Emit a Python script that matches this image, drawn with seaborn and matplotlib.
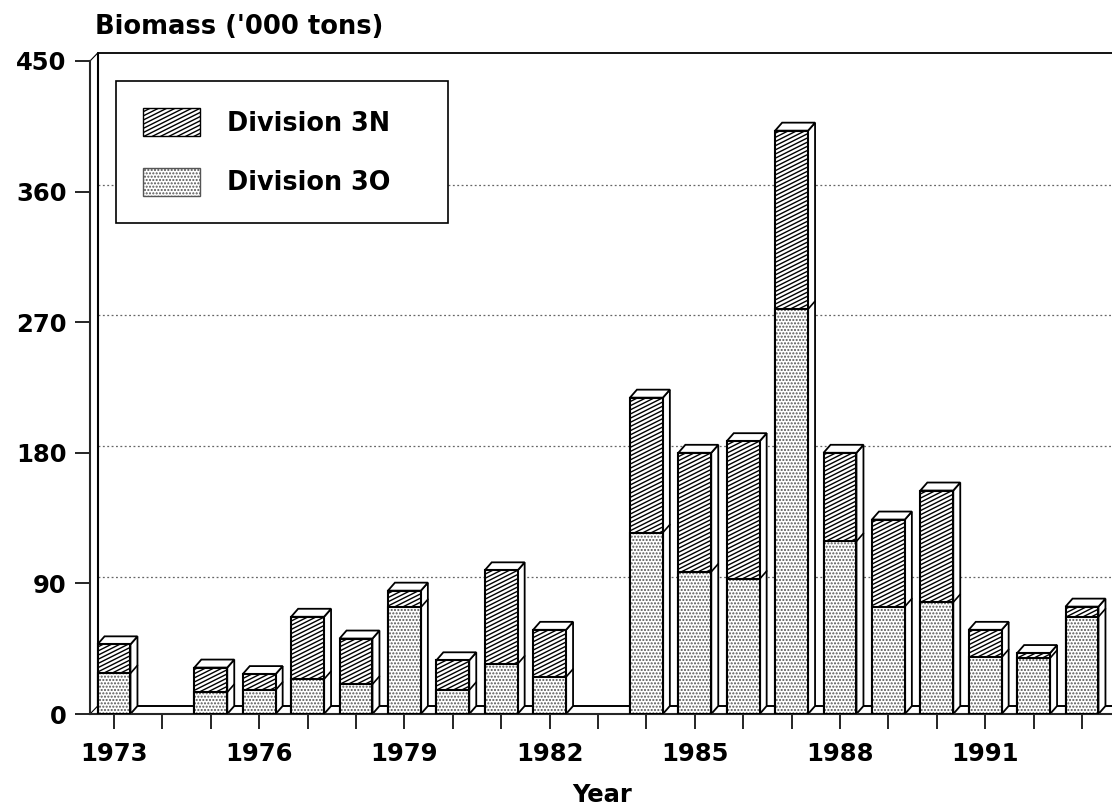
#!/usr/bin/env python3
"""Stacked biomass bars by division, drawn with a fake 3D depth."""
import numpy as np
import pandas as pd
import matplotlib
matplotlib.use('Agg')
import matplotlib.hatch as mhatch
import matplotlib.pyplot as plt
import seaborn as sns
from matplotlib.patches import Patch, Polygon
from matplotlib.path import Path

years = list(range(1973, 1994))
div_3o = [28, 0, 15, 16.5, 24, 20.5, 73.5, 16.5, 34.5, 25.5, 0,
          125, 98, 93, 279, 119, 74, 77, 39, 38.5, 67]
div_3n = [20, 0, 17, 11, 43, 31.5, 11.5, 20.5, 64.5, 32.5, 0,
          93, 82, 95, 123, 61, 60, 77, 19, 3.5, 7]
y_ticks = [0, 90, 180, 270, 360, 450]
x_labels = [1973, 1976, 1979, 1982, 1985, 1988, 1991]

W, H = 1112, 809
LEFT, BOTTOM, TOP = 90, 714, 61
PX_YEAR = 48.4
PX_UNIT = (BOTTOM - TOP) / 450
DX, DY = 7 / PX_YEAR, 8 / PX_UNIT   # bar depth in data units
FONT = 'DejaVu Sans'


# the original's hatch is flatter than the stock 45 degree one
class ShallowHatch(mhatch.HatchPatternBase):
    def __init__(self, hatch, density):
        self.n = hatch.count('/') * density
        self.lines = self.n + self.n // 2 + 1 if self.n else 0
        self.num_vertices = self.lines * 2

    def set_vertices_and_codes(self, vertices, codes):
        start = np.arange(self.lines) / self.n - 0.5
        vertices[0::2, 0], vertices[0::2, 1] = 0, start
        vertices[1::2, 0], vertices[1::2, 1] = 1, start + 0.5
        codes[0::2] = Path.MOVETO
        codes[1::2] = Path.LINETO


mhatch._hatch_types[mhatch._hatch_types.index(mhatch.NorthEastHatch)] = ShallowHatch

df = pd.DataFrame({'year': years, 'div_3o': div_3o, 'div_3n': div_3n})
df['total'] = df['div_3o'] + df['div_3n']
bars = df[df['total'] > 0]

sns.set_style('white')
plt.rcParams['font.family'] = FONT
plt.rcParams['hatch.linewidth'] = 1.0
plt.rcParams['text.color'] = 'black'

fig = plt.figure(figsize=(W / 100, H / 100), dpi=100)
ax = fig.add_axes([LEFT / W, 1 - BOTTOM / H, (W - LEFT) / W, (BOTTOM - TOP) / H])

# front faces
sns.barplot(data=bars, x='year', y='total', native_scale=True, width=0.68,
            color='white', saturation=1, edgecolor='black', linewidth=1.5,
            hatch='////', zorder=3, ax=ax)
sns.barplot(data=bars, x='year', y='div_3o', native_scale=True, width=0.68,
            color='white', saturation=1, edgecolor='#555555', linewidth=0,
            hatch='.....', zorder=4, ax=ax)
sns.barplot(data=bars, x='year', y='div_3o', native_scale=True, width=0.68,
            fill=False, edgecolor='black', linewidth=1.5, zorder=5, ax=ax)

ax.set_xlim(1973 - 24 / PX_YEAR, 1973 + (W - LEFT - 24) / PX_YEAR)
ax.set_ylim(0, 450)
x0, x1 = ax.get_xlim()

# side and top faces, taken from the bars seaborn drew
edge = dict(facecolor='white', edgecolor='black', linewidth=1.3, zorder=2)
for tot, low in zip(ax.containers[0], ax.containers[1]):
    l, r = tot.get_x(), tot.get_x() + tot.get_width()
    top, mid = tot.get_height(), low.get_height()
    ax.add_patch(Polygon([(r, 0), (r + DX, DY), (r + DX, top + DY), (r, top)], **edge))
    ax.add_patch(Polygon([(l, top), (l + DX, top + DY), (r + DX, top + DY), (r, top)], **edge))
    ax.plot([r, r + DX], [mid, mid + DY], color='black', lw=1.2, zorder=2.5)

# back wall, floor and grid
wall = x0 + DX * 1.1
line = dict(color='black', clip_on=False, zorder=1)
ax.plot([wall, wall], [DY, 450 + DY], lw=1.5, **line)
ax.plot([wall, x1], [450 + DY, 450 + DY], lw=1.3, **line)
ax.plot([x0, wall], [450, 450 + DY], lw=0.8, **line)
ax.plot([x0, wall], [0, DY], lw=0.8, **line)
ax.plot([wall, x1], [DY, DY], lw=1.4, **line)
for v in y_ticks[1:-1]:
    ax.plot([wall, x1], [v + DY * 0.85, v + DY * 0.85], color='#666666', lw=0.9,
            ls=(0, (1.5, 2)), zorder=0.5)

# axes
sns.despine(ax=ax, top=True, right=True)
ax.spines['left'].set_linewidth(1.5)
ax.spines['bottom'].set_linewidth(1.5)
ax.set_yticks(y_ticks)
ax.set_xticks(years)
ax.set_xticklabels([str(y) if y in x_labels else '' for y in years])
ax.tick_params(axis='both', which='major', direction='out', left=True, bottom=True,
               length=11, width=1.2, labelsize=17.5, color='black', labelcolor='black')
ax.tick_params(axis='x', pad=9)
ax.tick_params(axis='y', pad=6)
for t in ax.get_xticklabels() + ax.get_yticklabels():
    t.set_fontweight('bold')
ax.set_xlabel('')
ax.set_ylabel('')

fig.text(95 / W, 1 - 27 / H, "Biomass ('000 tons)", fontsize=18.5, fontweight='bold',
         ha='left', va='center')
fig.text(602 / W, 1 - 795 / H, 'Year', fontsize=17.5, fontweight='bold',
         ha='center', va='center')

# legend
handles = [
    Patch(facecolor='white', edgecolor='black', hatch='////', label='Division 3N'),
    Patch(facecolor='white', edgecolor='#555555', hatch='.....', label='Division 3O'),
]
leg = ax.legend(handles=handles, loc='upper left', mode='expand',
                bbox_to_anchor=((116 - LEFT) / (W - LEFT), (BOTTOM - 224) / (BOTTOM - TOP),
                                332 / (W - LEFT), 143 / (BOTTOM - TOP)),
                borderaxespad=0, fancybox=False, framealpha=1, edgecolor='black',
                prop={'family': FONT, 'weight': 'bold', 'size': 18.4},
                handlelength=2.23, handleheight=1.33, handletextpad=1.05,
                borderpad=1.05, labelspacing=1.22)
leg.get_frame().set_linewidth(1.2)
leg.set_zorder(6)

fig.savefig('out.png', dpi=100)
